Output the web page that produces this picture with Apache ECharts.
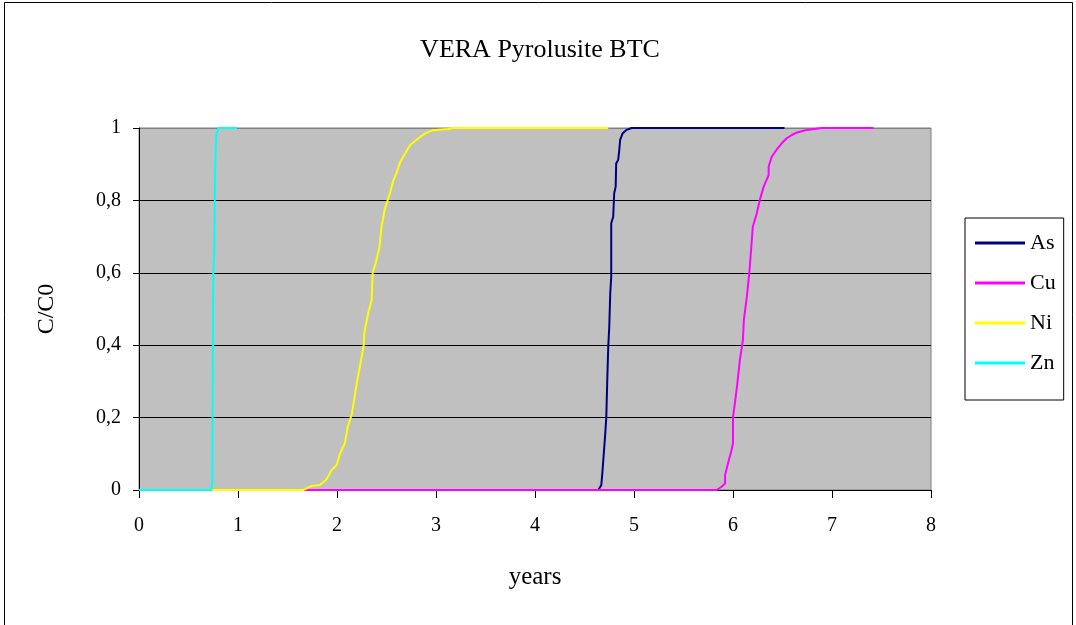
<!DOCTYPE html>
<html>
<head>
<meta charset="utf-8">
<script src="https://cdn.jsdelivr.net/npm/echarts@6/dist/echarts.min.js"></script>
<style>
  html, body { margin: 0; padding: 0; background: #fff; }
  #chart { width: 1076px; height: 625px; }
</style>
</head>
<body>
<div id="chart"></div>
<script>
// breakthrough curves, [years, C/C0]
var asData = [[0,0],[4.64,0],[4.67,0.014],[4.68,0.046],[4.69,0.083],[4.71,0.157],[4.72,0.2],[4.73,0.304],[4.74,0.396],[4.75,0.45],[4.76,0.543],[4.77,0.589],[4.77,0.737],[4.79,0.755],[4.8,0.82],[4.815,0.838],[4.82,0.902],[4.84,0.912],[4.85,0.935],[4.86,0.967],[4.885,0.985],[4.92,0.994],[4.975,1],[6.52,1]];
var cuData = [[0,0],[5.835,0],[5.885,0.009],[5.92,0.018],[5.92,0.041],[5.95,0.074],[5.985,0.11],[6.0,0.13],[6.0,0.2],[6.04,0.285],[6.07,0.36],[6.1,0.414],[6.11,0.47],[6.14,0.534],[6.165,0.6],[6.18,0.654],[6.2,0.727],[6.24,0.764],[6.27,0.8],[6.31,0.838],[6.36,0.87],[6.36,0.893],[6.39,0.92],[6.44,0.94],[6.49,0.957],[6.54,0.971],[6.59,0.98],[6.64,0.987],[6.73,0.994],[6.895,1],[7.42,1]];
var niData = [[0,0],[1.659,0],[1.744,0.011],[1.828,0.014],[1.896,0.03],[1.946,0.055],[1.997,0.069],[2.03,0.1],[2.08,0.13],[2.11,0.175],[2.15,0.21],[2.2,0.295],[2.23,0.34],[2.27,0.4],[2.275,0.433],[2.315,0.488],[2.35,0.525],[2.36,0.6],[2.39,0.626],[2.43,0.672],[2.45,0.727],[2.48,0.773],[2.535,0.82],[2.57,0.856],[2.6,0.875],[2.64,0.907],[2.69,0.93],[2.74,0.953],[2.82,0.971],[2.89,0.985],[2.97,0.994],[3.12,0.997],[3.17,1],[4.74,1]];
var znData = [[0,0],[0.73,0],[0.74,0.02],[0.745,0.3],[0.75,0.6],[0.76,0.65],[0.77,0.9],[0.78,0.98],[0.8,1],[0.99,1]];

var seriesNames = ['As', 'Cu', 'Ni', 'Zn'];
var seriesColors = ['#000080', '#FF00FF', '#FFFF00', '#00FFFF'];
var seriesData = [asData, cuData, niData, znData];

var font = 'Liberation Serif';
var chart = echarts.init(document.getElementById('chart'));

var series = seriesNames.map(function (name, i) {
  return {
    name: name,
    type: 'line',
    data: seriesData[i],
    symbol: 'none',
    lineStyle: { width: 2, color: seriesColors[i] },
    itemStyle: { color: seriesColors[i] }
  };
});

var options = {
  animation: false,
  backgroundColor: '#fff',
  title: {
    text: 'VERA Pyrolusite BTC',
    left: 535,
    textAlign: 'center',
    top: 32,
    textStyle: { fontFamily: font, fontSize: 26, fontWeight: 'normal', color: '#000' }
  },
  graphic: [{
    type: 'rect',
    shape: { x: 4.5, y: 2.5, width: 1068, height: 640 },
    style: { fill: 'none', stroke: '#000', lineWidth: 1 },
    silent: true
  }],
  legend: {
    orient: 'vertical',
    left: 965,
    top: 218,
    padding: [14, 8, 26, 10],
    itemGap: 18,
    itemWidth: 50,
    itemHeight: 3,
    icon: 'rect',
    borderColor: '#000',
    borderWidth: 1,
    backgroundColor: '#fff',
    data: seriesNames,
    textStyle: { fontFamily: font, fontSize: 22, color: '#000' }
  },
  grid: {
    left: 139,
    right: 145,
    top: 128,
    bottom: 135,
    show: true,
    backgroundColor: '#C0C0C0',
    borderColor: '#808080',
    borderWidth: 1
  },
  xAxis: {
    type: 'value',
    min: 0,
    max: 8,
    interval: 1,
    name: 'years',
    nameLocation: 'middle',
    nameGap: 75,
    nameTextStyle: { fontFamily: font, fontSize: 25, color: '#000' },
    axisLine: { lineStyle: { color: '#000', width: 1 } },
    axisTick: { show: true, length: 8, lineStyle: { color: '#000' } },
    axisLabel: { margin: 26, fontFamily: font, fontSize: 20, color: '#000' },
    splitLine: { show: false }
  },
  yAxis: {
    type: 'value',
    min: 0,
    max: 1,
    interval: 0.2,
    name: 'C/C0',
    nameLocation: 'middle',
    nameGap: 80,
    nameTextStyle: { fontFamily: font, fontSize: 24, color: '#000' },
    axisLine: { show: true, lineStyle: { color: '#000', width: 1 } },
    axisTick: { show: true, length: 6, lineStyle: { color: '#000' } },
    axisLabel: {
      margin: 18,
      fontFamily: font,
      fontSize: 20,
      color: '#000',
      formatter: function (v) { return String(Math.round(v * 10) / 10).replace('.', ','); }
    },
    splitLine: {
      show: true,
      lineStyle: { color: ['#000', '#000', '#000', '#000', '#000', '#808080'], width: 1 }
    }
  },
  series: series
};

chart.setOption(options);
</script>
</body>
</html>
